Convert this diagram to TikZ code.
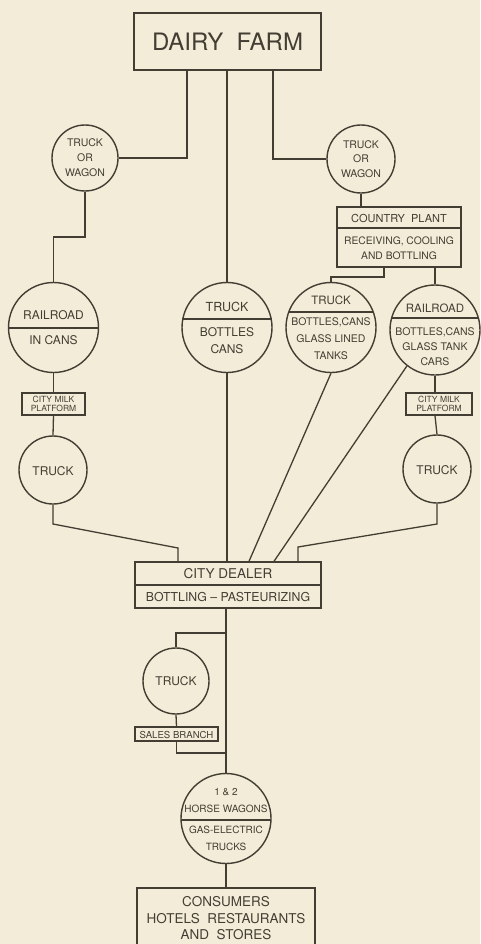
\documentclass[tikz,border=0pt]{standalone}
\usepackage{fontspec}
\setmainfont{TeX Gyre Heros}
\definecolor{ink}{HTML}{423E33}
\definecolor{paper}{HTML}{F3ECD8}
\newcommand{\fs}[2]{\fontsize{#1}{#2}\selectfont}
\begin{document}
\begin{tikzpicture}[x=1pt,y=-1pt,
  circ/.style={draw=ink,circle,inner sep=0pt,line width=1.4pt},
  boxx/.style={draw=ink,rectangle,inner sep=0pt,line width=1.4pt},
  txt/.style={text=ink,inner sep=0pt,align=center},
  conn/.style={draw=ink,line width=1.3pt},
  divl/.style={draw=ink,line width=1.2pt}]
\fill[paper] (0,0) rectangle (480,944);
\useasboundingbox (0,0) rectangle (480,944);

% ---------- nodes ----------
\node[boxx,minimum width=187pt,minimum height=57pt] (farm) at (227.5,41.5) {};
\node[txt,font=\fs{24}{28}] (farmt) at (227.5,42) {DAIRY\ \ FARM};

\node[circ,minimum size=66pt] (tw1) at (85,158) {};
\node[txt,font=\fs{10.5}{15}] (tw1t) at (85,158) {TRUCK\\OR\\WAGON};
\node[circ,minimum size=68pt] (tw2) at (361,159) {};
\node[txt,font=\fs{10.5}{14.5}] (tw2t) at (361,159) {TRUCK\\OR\\WAGON};

\node[boxx,minimum width=124pt,minimum height=60pt] (plant) at (399,237) {};
\node[txt,font=\fs{11}{13}] (plantt1) at (399,218.5) {COUNTRY\ \ PLANT};
\node[txt,font=\fs{10.3}{15}] (plantt2) at (399,248.5) {RECEIVING, COOLING\\AND BOTTLING};

\node[circ,minimum size=90pt] (rr1) at (53.5,327.5) {};
\node[txt,font=\fs{12}{14}] (rr1a) at (53.5,315) {RAILROAD};
\node[txt,font=\fs{12}{14}] (rr1b) at (53.5,340) {IN CANS};

\node[circ,minimum size=90pt] (truckC) at (227,327.5) {};
\node[txt,font=\fs{12.5}{14}] (truckCa) at (227,307) {TRUCK};
\node[txt,font=\fs{12}{17}] (truckCb) at (227,340.5) {BOTTLES\\CANS};

\node[circ,minimum size=90pt] (truckM) at (331,327.5) {};
\node[txt,font=\fs{11.5}{14}] (truckMa) at (331,300) {TRUCK};
\node[txt,font=\fs{10.5}{17}] (truckMb) at (331,339) {BOTTLES,CANS\\GLASS LINED\\TANKS};

\node[circ,minimum size=90pt] (rr2) at (435,330) {};
\node[txt,font=\fs{11.5}{14}] (rr2a) at (435,308) {RAILROAD};
\node[txt,font=\fs{10.5}{15}] (rr2b) at (435,347) {BOTTLES,CANS\\GLASS TANK\\CARS};

\node[boxx,minimum width=63pt,minimum height=22pt] (plat1) at (53.5,404) {};
\node[txt,font=\fs{8.5}{9}] (plat1t) at (53.5,404) {CITY MILK\\PLATFORM};
\node[boxx,minimum width=66pt,minimum height=22pt] (plat2) at (439,404) {};
\node[txt,font=\fs{8.5}{9}] (plat2t) at (439,404) {CITY MILK\\PLATFORM};

\node[circ,minimum size=68pt] (truckL) at (53,470) {};
\node[txt,font=\fs{12}{14}] (truckLt) at (53,471.5) {TRUCK};
\node[circ,minimum size=68pt] (truckR) at (437,469) {};
\node[txt,font=\fs{12}{14}] (truckRt) at (437,470) {TRUCK};

\node[boxx,minimum width=186pt,minimum height=46pt] (dealer) at (228,585) {};
\node[txt,font=\fs{13.5}{15}] (dealera) at (228,574) {CITY DEALER};
\node[txt,font=\fs{12.3}{14}] (dealerb) at (228,597) {BOTTLING -- PASTEURIZING};

\node[circ,minimum size=66pt] (truckLow) at (176,681) {};
\node[txt,font=\fs{12}{14}] (truckLowt) at (176,681) {TRUCK};
\node[boxx,minimum width=83pt,minimum height=14pt] (sales) at (176.5,734) {};
\node[txt,font=\fs{9.6}{11}] (salest) at (176.5,734.5) {SALES BRANCH};

\node[circ,minimum size=90pt] (horse) at (226,818.5) {};
\node[txt,font=\fs{10}{17}] (horsea) at (226,800.5) {1 \& 2\\HORSE WAGONS};
\node[txt,font=\fs{10}{17}] (horseb) at (226,838.5) {GAS-ELECTRIC\\TRUCKS};

\node[boxx,minimum width=178pt,minimum height=60pt] (cons) at (226,918) {};
\node[txt,font=\fs{13.5}{16.5}] (const) at (226,918.5) {CONSUMERS\\HOTELS\ \ RESTAURANTS\\AND\ \ STORES};

% ---------- dividers ----------
\draw[divl] (plant.west |- 0,228) -- (plant.east |- 0,228);
\draw[divl] (dealer.west |- 0,585) -- (dealer.east |- 0,585);
\begin{scope}\clip (rr1.center) circle[radius=45]; \draw[divl] (0,328) -- (480,328); \end{scope}
\begin{scope}\clip (truckC.center) circle[radius=45]; \draw[divl] (0,319) -- (480,319); \end{scope}
\begin{scope}\clip (truckM.center) circle[radius=45]; \draw[divl] (0,312) -- (480,312); \end{scope}
\begin{scope}\clip (rr2.center) circle[radius=45]; \draw[divl] (0,318) -- (480,318); \end{scope}
\begin{scope}\clip (horse.center) circle[radius=45]; \draw[divl] (0,820) -- (480,820); \end{scope}

% ---------- bend coordinates ----------
\coordinate (j1) at (187,0);
\coordinate (j2) at (273,0);
\coordinate (b1) at (0,237);
\coordinate (j3) at (384,277);
\coordinate (k1) at (53,524);
\coordinate (k2) at (178,548);
\coordinate (k3) at (437,524);
\coordinate (k4) at (298,547);
\coordinate (m1) at (249,0);
\coordinate (m2) at (274,0);
\coordinate (s1) at (0,633);
\coordinate (s2) at (0,753);

% ---------- connectors ----------
\draw[conn] (farm.south -| j1) |- (tw1.east);
\draw[conn] (farm.south -| truckC) -- (truckC.north);
\draw[conn] (farm.south -| j2) |- (tw2.west);
\draw[conn] (tw1.south) -- (tw1.south |- b1) -| (rr1.north);
\draw[conn] (tw2.south) -- (plant.north -| tw2);
\draw[conn] (plant.south -| j3) -- (j3) -| (truckM.north);
\draw[conn] (plant.south -| rr2) -- (rr2.north);
\draw[conn] (rr1.south) -- (plat1.north);
\draw[conn] (plat1.south) -- (truckL.north);
\draw[conn] (rr2.south) -- (rr2.south |- plat2.north);
\draw[conn] (rr2.south |- plat2.south) -- (truckR.north);
\draw[conn] (truckL.south) -- (k1) -- (k2) -- (dealer.north -| k2);
\draw[conn] (truckC.south) -- (dealer.north -| truckC);
\draw[conn] (truckM.south) -- (dealer.north -| m1);
\draw[conn] (rr2.232) -- (dealer.north -| m2);
\draw[conn] (truckR.south) -- (k3) -- (k4) -- (dealer.north -| k4);
\draw[conn] (dealer.south -| horse) -- (horse.north);
\draw[conn] (horse |- s1) -| (truckLow.north);
\draw[conn] (truckLow.south) -- (sales.north);
\draw[conn] (sales.south) |- (horse |- s2);
\draw[conn] (horse.south) -- (cons.north);
\end{tikzpicture}
\end{document}
